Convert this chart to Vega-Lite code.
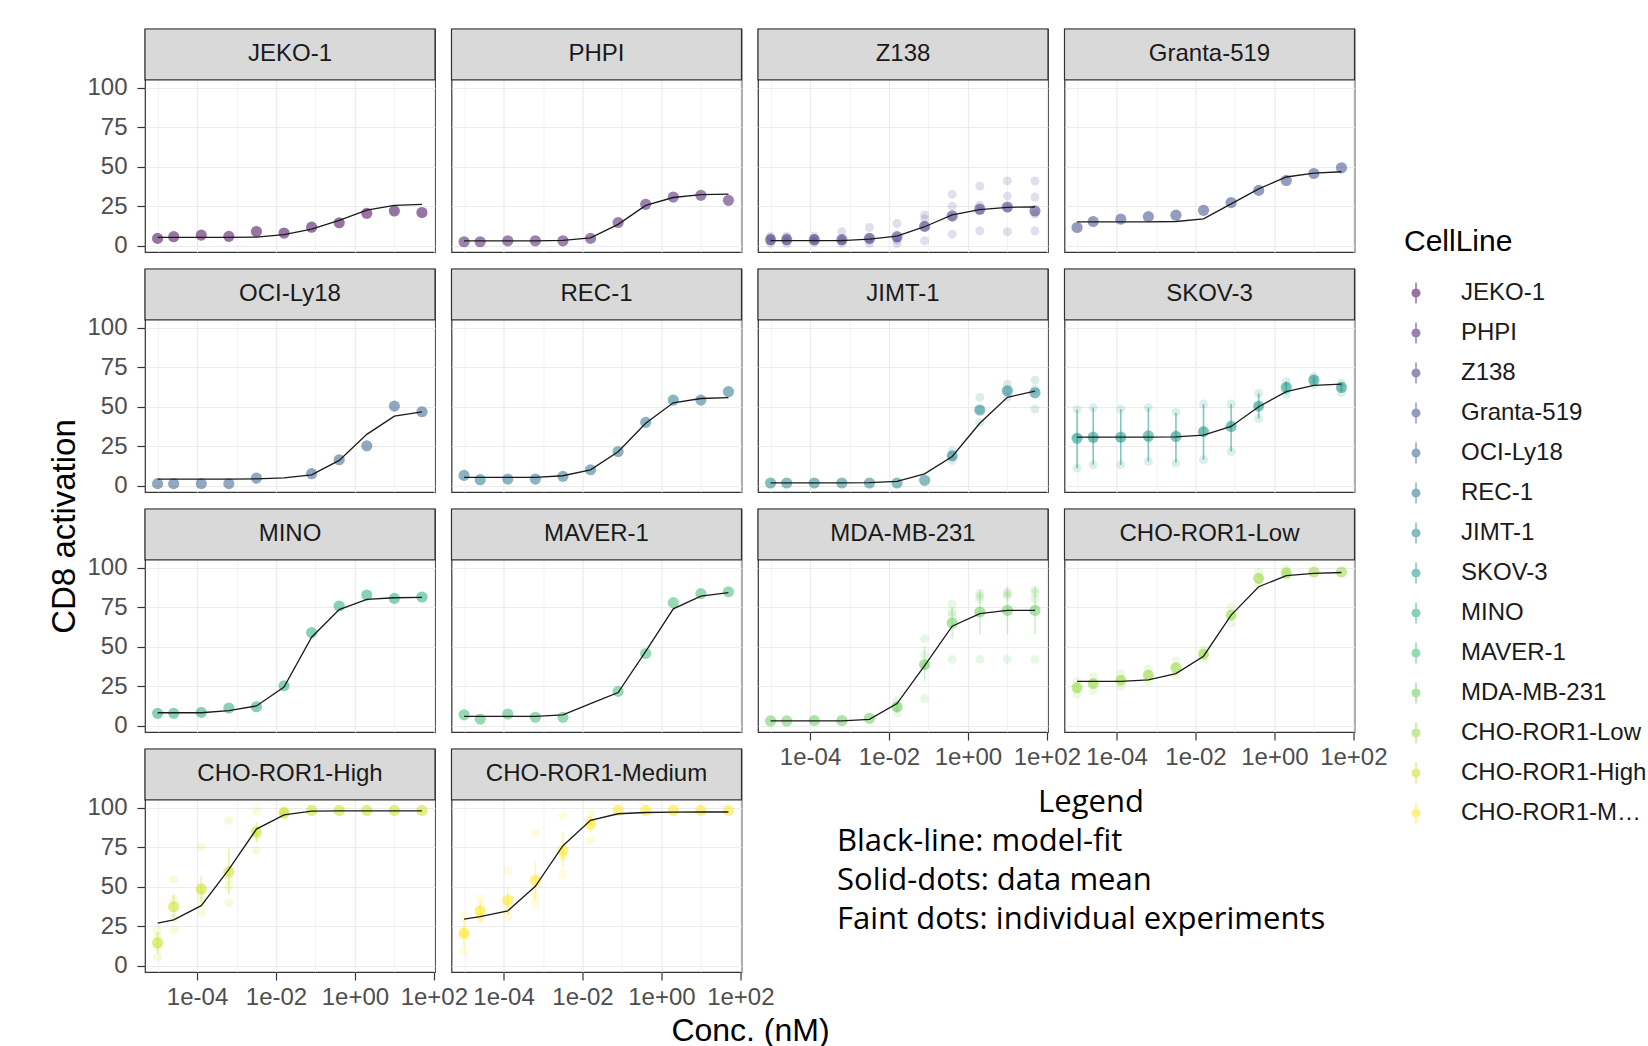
{
"$schema":"https://vega.github.io/schema/vega-lite/v6.json",
"background":"white",
"padding":{"left":47,"top":27,"right":0,"bottom":0},
"autosize":{"type":"pad"},
"columns":4,
"bounds":"flush",
"spacing":{"row":17,"column":16.5},
"datasets":{
"m":[
{"CellLine":"JEKO-1","conc":0.00001,"mean":4.6,"fit":5.2},{"CellLine":"JEKO-1","conc":0.0000256,"mean":5.7,"fit":5.2},{"CellLine":"JEKO-1","conc":0.000128,"mean":6.7,"fit":5.2},{"CellLine":"JEKO-1","conc":0.00064,"mean":5.9,"fit":5.2},{"CellLine":"JEKO-1","conc":0.0032,"mean":9,"fit":5.4},{"CellLine":"JEKO-1","conc":0.016,"mean":8,"fit":7},{"CellLine":"JEKO-1","conc":0.08,"mean":11.7,"fit":10.5},{"CellLine":"JEKO-1","conc":0.4,"mean":14.5,"fit":16},{"CellLine":"JEKO-1","conc":2,"mean":20.5,"fit":22.5},{"CellLine":"JEKO-1","conc":10,"mean":22,"fit":25.5},{"CellLine":"JEKO-1","conc":50,"mean":21,"fit":26.2},
{"CellLine":"PHPI","conc":0.00001,"mean":2.5,"fit":3},{"CellLine":"PHPI","conc":0.0000256,"mean":2.5,"fit":3},{"CellLine":"PHPI","conc":0.000128,"mean":3.1,"fit":3},{"CellLine":"PHPI","conc":0.00064,"mean":3.1,"fit":3.1},{"CellLine":"PHPI","conc":0.0032,"mean":3.1,"fit":3.3},{"CellLine":"PHPI","conc":0.016,"mean":4.6,"fit":5},{"CellLine":"PHPI","conc":0.08,"mean":14.7,"fit":13.5},{"CellLine":"PHPI","conc":0.4,"mean":26.2,"fit":25.5},{"CellLine":"PHPI","conc":2,"mean":30.8,"fit":30.5},{"CellLine":"PHPI","conc":10,"mean":31.9,"fit":32.3},{"CellLine":"PHPI","conc":50,"mean":28.7,"fit":32.6},
{"CellLine":"Z138","conc":0.00001,"mean":3.8,"fit":3.2},{"CellLine":"Z138","conc":0.0000256,"mean":3.8,"fit":3.2},{"CellLine":"Z138","conc":0.000128,"mean":3.8,"fit":3.2},{"CellLine":"Z138","conc":0.00064,"mean":3.8,"fit":3.2},{"CellLine":"Z138","conc":0.0032,"mean":4.6,"fit":4.2},{"CellLine":"Z138","conc":0.016,"mean":5.7,"fit":6},{"CellLine":"Z138","conc":0.08,"mean":12.2,"fit":12},{"CellLine":"Z138","conc":0.4,"mean":18.9,"fit":19.5},{"CellLine":"Z138","conc":2,"mean":23.1,"fit":22.8},{"CellLine":"Z138","conc":10,"mean":24.5,"fit":24.3},{"CellLine":"Z138","conc":50,"mean":22,"fit":24.5},
{"CellLine":"Granta-519","conc":0.00001,"mean":11.5,"fit":15.1},{"CellLine":"Granta-519","conc":0.0000256,"mean":15.3,"fit":15.1},{"CellLine":"Granta-519","conc":0.000128,"mean":16.8,"fit":15.1},{"CellLine":"Granta-519","conc":0.00064,"mean":18.4,"fit":15.1},{"CellLine":"Granta-519","conc":0.0032,"mean":19.3,"fit":15.3},{"CellLine":"Granta-519","conc":0.016,"mean":22.4,"fit":17},{"CellLine":"Granta-519","conc":0.08,"mean":27.3,"fit":26.5},{"CellLine":"Granta-519","conc":0.4,"mean":35,"fit":36},{"CellLine":"Granta-519","conc":2,"mean":41.3,"fit":43.5},{"CellLine":"Granta-519","conc":10,"mean":45.7,"fit":46},{"CellLine":"Granta-519","conc":50,"mean":49.3,"fit":46.8},
{"CellLine":"OCI-Ly18","conc":0.00001,"mean":1.3,"fit":4.2},{"CellLine":"OCI-Ly18","conc":0.0000256,"mean":1.3,"fit":4.2},{"CellLine":"OCI-Ly18","conc":0.000128,"mean":1.3,"fit":4.2},{"CellLine":"OCI-Ly18","conc":0.00064,"mean":1.3,"fit":4.2},{"CellLine":"OCI-Ly18","conc":0.0032,"mean":4.8,"fit":4.3},{"CellLine":"OCI-Ly18","conc":0.016,"mean":null,"fit":4.9},{"CellLine":"OCI-Ly18","conc":0.08,"mean":7.6,"fit":6.9},{"CellLine":"OCI-Ly18","conc":0.4,"mean":16.4,"fit":16},{"CellLine":"OCI-Ly18","conc":2,"mean":25.2,"fit":32.5},{"CellLine":"OCI-Ly18","conc":10,"mean":50.4,"fit":44},{"CellLine":"OCI-Ly18","conc":50,"mean":46.8,"fit":46.8},
{"CellLine":"REC-1","conc":0.00001,"mean":6.5,"fit":5.2},{"CellLine":"REC-1","conc":0.0000256,"mean":3.8,"fit":5.2},{"CellLine":"REC-1","conc":0.000128,"mean":4.2,"fit":5.2},{"CellLine":"REC-1","conc":0.00064,"mean":4.2,"fit":5.3},{"CellLine":"REC-1","conc":0.0032,"mean":5.9,"fit":6.3},{"CellLine":"REC-1","conc":0.016,"mean":10.1,"fit":10},{"CellLine":"REC-1","conc":0.08,"mean":21.6,"fit":21.5},{"CellLine":"REC-1","conc":0.4,"mean":40.1,"fit":39.5},{"CellLine":"REC-1","conc":2,"mean":54.2,"fit":52.5},{"CellLine":"REC-1","conc":10,"mean":54.2,"fit":55.2},{"CellLine":"REC-1","conc":50,"mean":59.5,"fit":55.7},
{"CellLine":"JIMT-1","conc":0.00001,"mean":1.7,"fit":1.8},{"CellLine":"JIMT-1","conc":0.0000256,"mean":1.7,"fit":1.8},{"CellLine":"JIMT-1","conc":0.000128,"mean":1.7,"fit":1.8},{"CellLine":"JIMT-1","conc":0.00064,"mean":1.7,"fit":1.8},{"CellLine":"JIMT-1","conc":0.0032,"mean":1.7,"fit":1.9},{"CellLine":"JIMT-1","conc":0.016,"mean":1.7,"fit":2.7},{"CellLine":"JIMT-1","conc":0.08,"mean":3.4,"fit":7.5},{"CellLine":"JIMT-1","conc":0.4,"mean":18.9,"fit":18.5},{"CellLine":"JIMT-1","conc":2,"mean":47.9,"fit":39.5},{"CellLine":"JIMT-1","conc":10,"mean":60.1,"fit":56},{"CellLine":"JIMT-1","conc":50,"mean":58.8,"fit":59.8},
{"CellLine":"SKOV-3","conc":0.00001,"mean":30,"fit":30.7,"lo":11.1,"hi":48.3},{"CellLine":"SKOV-3","conc":0.0000256,"mean":30.7,"fit":30.7,"lo":13.2,"hi":49.4},{"CellLine":"SKOV-3","conc":0.000128,"mean":30.7,"fit":30.7,"lo":13.2,"hi":48.5},{"CellLine":"SKOV-3","conc":0.00064,"mean":31.5,"fit":30.7,"lo":15.3,"hi":49.4},{"CellLine":"SKOV-3","conc":0.0032,"mean":31.1,"fit":30.9,"lo":14.3,"hi":46.4},{"CellLine":"SKOV-3","conc":0.016,"mean":34.2,"fit":32,"lo":16.4,"hi":51.7},{"CellLine":"SKOV-3","conc":0.08,"mean":37.4,"fit":37.5,"lo":21.6,"hi":51.7},{"CellLine":"SKOV-3","conc":0.4,"mean":50.4,"fit":50,"lo":42.6,"hi":58.4},{"CellLine":"SKOV-3","conc":2,"mean":62.2,"fit":59.5,"lo":58,"hi":66},{"CellLine":"SKOV-3","conc":10,"mean":66.8,"fit":63.5,"lo":64,"hi":69},{"CellLine":"SKOV-3","conc":50,"mean":62.2,"fit":64.3,"lo":59,"hi":65},
{"CellLine":"MINO","conc":0.00001,"mean":7.8,"fit":8.2},{"CellLine":"MINO","conc":0.0000256,"mean":7.8,"fit":8.2},{"CellLine":"MINO","conc":0.000128,"mean":8.4,"fit":8.2},{"CellLine":"MINO","conc":0.00064,"mean":11.2,"fit":9.5},{"CellLine":"MINO","conc":0.0032,"mean":12,"fit":12.5},{"CellLine":"MINO","conc":0.016,"mean":25.3,"fit":24.5},{"CellLine":"MINO","conc":0.08,"mean":58.9,"fit":56},{"CellLine":"MINO","conc":0.4,"mean":75.8,"fit":73.5},{"CellLine":"MINO","conc":2,"mean":82.7,"fit":80},{"CellLine":"MINO","conc":10,"mean":80.6,"fit":81},{"CellLine":"MINO","conc":50,"mean":81.5,"fit":81.2},
{"CellLine":"MAVER-1","conc":0.00001,"mean":6.9,"fit":5.9},{"CellLine":"MAVER-1","conc":0.0000256,"mean":4.2,"fit":5.9},{"CellLine":"MAVER-1","conc":0.000128,"mean":7.4,"fit":5.9},{"CellLine":"MAVER-1","conc":0.00064,"mean":5.3,"fit":5.9},{"CellLine":"MAVER-1","conc":0.0032,"mean":5.3,"fit":6.9},{"CellLine":"MAVER-1","conc":0.016,"mean":null,"fit":14},{"CellLine":"MAVER-1","conc":0.08,"mean":21.7,"fit":21},{"CellLine":"MAVER-1","conc":0.4,"mean":45.7,"fit":47},{"CellLine":"MAVER-1","conc":2,"mean":77.9,"fit":74},{"CellLine":"MAVER-1","conc":10,"mean":83.6,"fit":82},{"CellLine":"MAVER-1","conc":50,"mean":84.8,"fit":84.2},
{"CellLine":"MDA-MB-231","conc":0.00001,"mean":3,"fit":3},{"CellLine":"MDA-MB-231","conc":0.0000256,"mean":3,"fit":3},{"CellLine":"MDA-MB-231","conc":0.000128,"mean":3.3,"fit":3},{"CellLine":"MDA-MB-231","conc":0.00064,"mean":3.3,"fit":3},{"CellLine":"MDA-MB-231","conc":0.0032,"mean":4.7,"fit":4},{"CellLine":"MDA-MB-231","conc":0.016,"mean":12,"fit":14,"lo":8,"hi":16},{"CellLine":"MDA-MB-231","conc":0.08,"mean":38.7,"fit":38,"lo":28,"hi":50},{"CellLine":"MDA-MB-231","conc":0.4,"mean":65,"fit":63,"lo":55,"hi":75},{"CellLine":"MDA-MB-231","conc":2,"mean":72,"fit":71,"lo":58,"hi":86},{"CellLine":"MDA-MB-231","conc":10,"mean":73,"fit":73,"lo":58,"hi":88},{"CellLine":"MDA-MB-231","conc":50,"mean":73,"fit":73,"lo":58,"hi":88},
{"CellLine":"CHO-ROR1-Low","conc":0.00001,"mean":24,"fit":28},{"CellLine":"CHO-ROR1-Low","conc":0.0000256,"mean":26.7,"fit":28},{"CellLine":"CHO-ROR1-Low","conc":0.000128,"mean":28.7,"fit":28},{"CellLine":"CHO-ROR1-Low","conc":0.00064,"mean":32,"fit":29},{"CellLine":"CHO-ROR1-Low","conc":0.0032,"mean":36.7,"fit":33},{"CellLine":"CHO-ROR1-Low","conc":0.016,"mean":45.3,"fit":44},{"CellLine":"CHO-ROR1-Low","conc":0.08,"mean":70,"fit":70},{"CellLine":"CHO-ROR1-Low","conc":0.4,"mean":93.3,"fit":88},{"CellLine":"CHO-ROR1-Low","conc":2,"mean":96.7,"fit":95},{"CellLine":"CHO-ROR1-Low","conc":10,"mean":97.3,"fit":96.5},{"CellLine":"CHO-ROR1-Low","conc":50,"mean":97.3,"fit":97},
{"CellLine":"CHO-ROR1-High","conc":0.00001,"mean":14.5,"fit":27,"lo":8,"hi":21},{"CellLine":"CHO-ROR1-High","conc":0.0000256,"mean":37.3,"fit":29,"lo":30,"hi":45},{"CellLine":"CHO-ROR1-High","conc":0.000128,"mean":48.6,"fit":38,"lo":40,"hi":57},{"CellLine":"CHO-ROR1-High","conc":0.00064,"mean":59.4,"fit":61,"lo":45,"hi":74},{"CellLine":"CHO-ROR1-High","conc":0.0032,"mean":84.6,"fit":86.5,"lo":78,"hi":91},{"CellLine":"CHO-ROR1-High","conc":0.016,"mean":96.8,"fit":95.5},{"CellLine":"CHO-ROR1-High","conc":0.08,"mean":98.3,"fit":97.8},{"CellLine":"CHO-ROR1-High","conc":0.4,"mean":98.3,"fit":98},{"CellLine":"CHO-ROR1-High","conc":2,"mean":98.3,"fit":98},{"CellLine":"CHO-ROR1-High","conc":10,"mean":98.3,"fit":98},{"CellLine":"CHO-ROR1-High","conc":50,"mean":98.3,"fit":98},
{"CellLine":"CHO-ROR1-Medium","conc":0.00001,"mean":20.4,"fit":29.5,"lo":12,"hi":29},{"CellLine":"CHO-ROR1-Medium","conc":0.0000256,"mean":34.7,"fit":31,"lo":28,"hi":41},{"CellLine":"CHO-ROR1-Medium","conc":0.000128,"mean":41.5,"fit":34.7,"lo":33,"hi":50},{"CellLine":"CHO-ROR1-Medium","conc":0.00064,"mean":54.1,"fit":50.3,"lo":42,"hi":66},{"CellLine":"CHO-ROR1-Medium","conc":0.0032,"mean":73.1,"fit":76,"lo":62,"hi":84},{"CellLine":"CHO-ROR1-Medium","conc":0.016,"mean":89.5,"fit":92,"lo":84,"hi":95},{"CellLine":"CHO-ROR1-Medium","conc":0.08,"mean":98.3,"fit":96.2},{"CellLine":"CHO-ROR1-Medium","conc":0.4,"mean":98.3,"fit":97},{"CellLine":"CHO-ROR1-Medium","conc":2,"mean":98.3,"fit":97.2},{"CellLine":"CHO-ROR1-Medium","conc":10,"mean":98.3,"fit":97.3},{"CellLine":"CHO-ROR1-Medium","conc":50,"mean":98.3,"fit":97.3}
],
"r":[
{"CellLine":"Z138","conc":0.00001,"value":1.5},{"CellLine":"Z138","conc":0.00001,"value":3},{"CellLine":"Z138","conc":0.00001,"value":5},{"CellLine":"Z138","conc":0.00001,"value":6},
{"CellLine":"Z138","conc":0.0000256,"value":1.5},{"CellLine":"Z138","conc":0.0000256,"value":3},{"CellLine":"Z138","conc":0.0000256,"value":5},{"CellLine":"Z138","conc":0.0000256,"value":6},
{"CellLine":"Z138","conc":0.000128,"value":2},{"CellLine":"Z138","conc":0.000128,"value":3},{"CellLine":"Z138","conc":0.000128,"value":4.5},{"CellLine":"Z138","conc":0.000128,"value":6},
{"CellLine":"Z138","conc":0.00064,"value":1.5},{"CellLine":"Z138","conc":0.00064,"value":3},{"CellLine":"Z138","conc":0.00064,"value":4},{"CellLine":"Z138","conc":0.00064,"value":8.8},
{"CellLine":"Z138","conc":0.0032,"value":1.5},{"CellLine":"Z138","conc":0.0032,"value":3.5},{"CellLine":"Z138","conc":0.0032,"value":5},{"CellLine":"Z138","conc":0.0032,"value":11.5},
{"CellLine":"Z138","conc":0.016,"value":1.5},{"CellLine":"Z138","conc":0.016,"value":3.5},{"CellLine":"Z138","conc":0.016,"value":5},{"CellLine":"Z138","conc":0.016,"value":14},
{"CellLine":"Z138","conc":0.08,"value":3},{"CellLine":"Z138","conc":0.08,"value":12},{"CellLine":"Z138","conc":0.08,"value":17},{"CellLine":"Z138","conc":0.08,"value":19.5},
{"CellLine":"Z138","conc":0.4,"value":7.3},{"CellLine":"Z138","conc":0.4,"value":18},{"CellLine":"Z138","conc":0.4,"value":25},{"CellLine":"Z138","conc":0.4,"value":32.5},
{"CellLine":"Z138","conc":2,"value":9.4},{"CellLine":"Z138","conc":2,"value":22},{"CellLine":"Z138","conc":2,"value":25.6},{"CellLine":"Z138","conc":2,"value":37.7},
{"CellLine":"Z138","conc":10,"value":8.8},{"CellLine":"Z138","conc":10,"value":24},{"CellLine":"Z138","conc":10,"value":31.4},{"CellLine":"Z138","conc":10,"value":41},
{"CellLine":"Z138","conc":50,"value":9.4},{"CellLine":"Z138","conc":50,"value":20},{"CellLine":"Z138","conc":50,"value":30.8},{"CellLine":"Z138","conc":50,"value":41},
{"CellLine":"JIMT-1","conc":0.4,"value":16},{"CellLine":"JIMT-1","conc":0.4,"value":19},{"CellLine":"JIMT-1","conc":0.4,"value":22},
{"CellLine":"JIMT-1","conc":2,"value":40},{"CellLine":"JIMT-1","conc":2,"value":48},{"CellLine":"JIMT-1","conc":2,"value":56},
{"CellLine":"JIMT-1","conc":10,"value":56},{"CellLine":"JIMT-1","conc":10,"value":60},{"CellLine":"JIMT-1","conc":10,"value":64.3},
{"CellLine":"JIMT-1","conc":50,"value":48.5},{"CellLine":"JIMT-1","conc":50,"value":61},{"CellLine":"JIMT-1","conc":50,"value":66.8},
{"CellLine":"SKOV-3","conc":0.00001,"value":11.1},{"CellLine":"SKOV-3","conc":0.00001,"value":30.6},{"CellLine":"SKOV-3","conc":0.00001,"value":48.3},
{"CellLine":"SKOV-3","conc":0.0000256,"value":13.2},{"CellLine":"SKOV-3","conc":0.0000256,"value":29.5},{"CellLine":"SKOV-3","conc":0.0000256,"value":49.4},
{"CellLine":"SKOV-3","conc":0.000128,"value":13.2},{"CellLine":"SKOV-3","conc":0.000128,"value":30.4},{"CellLine":"SKOV-3","conc":0.000128,"value":48.5},
{"CellLine":"SKOV-3","conc":0.00064,"value":15.3},{"CellLine":"SKOV-3","conc":0.00064,"value":29.8},{"CellLine":"SKOV-3","conc":0.00064,"value":49.4},
{"CellLine":"SKOV-3","conc":0.0032,"value":14.3},{"CellLine":"SKOV-3","conc":0.0032,"value":32.6},{"CellLine":"SKOV-3","conc":0.0032,"value":46.4},
{"CellLine":"SKOV-3","conc":0.016,"value":16.4},{"CellLine":"SKOV-3","conc":0.016,"value":34.5},{"CellLine":"SKOV-3","conc":0.016,"value":51.7},
{"CellLine":"SKOV-3","conc":0.08,"value":21.6},{"CellLine":"SKOV-3","conc":0.08,"value":38.9},{"CellLine":"SKOV-3","conc":0.08,"value":51.7},
{"CellLine":"SKOV-3","conc":0.4,"value":42.6},{"CellLine":"SKOV-3","conc":0.4,"value":50.2},{"CellLine":"SKOV-3","conc":0.4,"value":58.4},
{"CellLine":"SKOV-3","conc":2,"value":58},{"CellLine":"SKOV-3","conc":2,"value":62.6},{"CellLine":"SKOV-3","conc":2,"value":66},
{"CellLine":"SKOV-3","conc":10,"value":64},{"CellLine":"SKOV-3","conc":10,"value":67.4},{"CellLine":"SKOV-3","conc":10,"value":69},
{"CellLine":"SKOV-3","conc":50,"value":59},{"CellLine":"SKOV-3","conc":50,"value":62.6},{"CellLine":"SKOV-3","conc":50,"value":65},
{"CellLine":"MDA-MB-231","conc":0.016,"value":8},{"CellLine":"MDA-MB-231","conc":0.016,"value":12},{"CellLine":"MDA-MB-231","conc":0.016,"value":16},
{"CellLine":"MDA-MB-231","conc":0.08,"value":17},{"CellLine":"MDA-MB-231","conc":0.08,"value":38},{"CellLine":"MDA-MB-231","conc":0.08,"value":45},{"CellLine":"MDA-MB-231","conc":0.08,"value":55},
{"CellLine":"MDA-MB-231","conc":0.4,"value":42},{"CellLine":"MDA-MB-231","conc":0.4,"value":70},{"CellLine":"MDA-MB-231","conc":0.4,"value":72},{"CellLine":"MDA-MB-231","conc":0.4,"value":77},
{"CellLine":"MDA-MB-231","conc":2,"value":42},{"CellLine":"MDA-MB-231","conc":2,"value":80},{"CellLine":"MDA-MB-231","conc":2,"value":82},{"CellLine":"MDA-MB-231","conc":2,"value":84},
{"CellLine":"MDA-MB-231","conc":10,"value":42},{"CellLine":"MDA-MB-231","conc":10,"value":82},{"CellLine":"MDA-MB-231","conc":10,"value":84},{"CellLine":"MDA-MB-231","conc":10,"value":84},
{"CellLine":"MDA-MB-231","conc":50,"value":42},{"CellLine":"MDA-MB-231","conc":50,"value":80},{"CellLine":"MDA-MB-231","conc":50,"value":84},{"CellLine":"MDA-MB-231","conc":50,"value":86},
{"CellLine":"CHO-ROR1-Low","conc":0.00001,"value":20},{"CellLine":"CHO-ROR1-Low","conc":0.00001,"value":24},{"CellLine":"CHO-ROR1-Low","conc":0.00001,"value":28},
{"CellLine":"CHO-ROR1-Low","conc":0.0000256,"value":22},{"CellLine":"CHO-ROR1-Low","conc":0.0000256,"value":27},{"CellLine":"CHO-ROR1-Low","conc":0.0000256,"value":31},
{"CellLine":"CHO-ROR1-Low","conc":0.000128,"value":25},{"CellLine":"CHO-ROR1-Low","conc":0.000128,"value":29},{"CellLine":"CHO-ROR1-Low","conc":0.000128,"value":33},
{"CellLine":"CHO-ROR1-Low","conc":0.00064,"value":28},{"CellLine":"CHO-ROR1-Low","conc":0.00064,"value":32},{"CellLine":"CHO-ROR1-Low","conc":0.00064,"value":36},
{"CellLine":"CHO-ROR1-Low","conc":0.0032,"value":32},{"CellLine":"CHO-ROR1-Low","conc":0.0032,"value":37},{"CellLine":"CHO-ROR1-Low","conc":0.0032,"value":41},
{"CellLine":"CHO-ROR1-Low","conc":0.016,"value":42},{"CellLine":"CHO-ROR1-Low","conc":0.016,"value":45},{"CellLine":"CHO-ROR1-Low","conc":0.016,"value":48},
{"CellLine":"CHO-ROR1-Low","conc":0.08,"value":65},{"CellLine":"CHO-ROR1-Low","conc":0.08,"value":70},{"CellLine":"CHO-ROR1-Low","conc":0.08,"value":75},
{"CellLine":"CHO-ROR1-Low","conc":0.4,"value":89},{"CellLine":"CHO-ROR1-Low","conc":0.4,"value":93},{"CellLine":"CHO-ROR1-Low","conc":0.4,"value":97},
{"CellLine":"CHO-ROR1-Low","conc":2,"value":95},{"CellLine":"CHO-ROR1-Low","conc":2,"value":97},{"CellLine":"CHO-ROR1-Low","conc":2,"value":99},
{"CellLine":"CHO-ROR1-High","conc":0.00001,"value":5.7},{"CellLine":"CHO-ROR1-High","conc":0.00001,"value":12},{"CellLine":"CHO-ROR1-High","conc":0.00001,"value":18},{"CellLine":"CHO-ROR1-High","conc":0.00001,"value":22.5},
{"CellLine":"CHO-ROR1-High","conc":0.0000256,"value":22.5},{"CellLine":"CHO-ROR1-High","conc":0.0000256,"value":30},{"CellLine":"CHO-ROR1-High","conc":0.0000256,"value":42},{"CellLine":"CHO-ROR1-High","conc":0.0000256,"value":54.5},
{"CellLine":"CHO-ROR1-High","conc":0.000128,"value":34},{"CellLine":"CHO-ROR1-High","conc":0.000128,"value":40},{"CellLine":"CHO-ROR1-High","conc":0.000128,"value":45},{"CellLine":"CHO-ROR1-High","conc":0.000128,"value":75},
{"CellLine":"CHO-ROR1-High","conc":0.00064,"value":40},{"CellLine":"CHO-ROR1-High","conc":0.00064,"value":50},{"CellLine":"CHO-ROR1-High","conc":0.00064,"value":55},{"CellLine":"CHO-ROR1-High","conc":0.00064,"value":92},
{"CellLine":"CHO-ROR1-High","conc":0.0032,"value":73},{"CellLine":"CHO-ROR1-High","conc":0.0032,"value":82},{"CellLine":"CHO-ROR1-High","conc":0.0032,"value":86},{"CellLine":"CHO-ROR1-High","conc":0.0032,"value":98},
{"CellLine":"CHO-ROR1-High","conc":0.016,"value":95},{"CellLine":"CHO-ROR1-High","conc":0.016,"value":97},{"CellLine":"CHO-ROR1-High","conc":0.016,"value":98},{"CellLine":"CHO-ROR1-High","conc":0.016,"value":98},
{"CellLine":"CHO-ROR1-Medium","conc":0.00001,"value":8.8},{"CellLine":"CHO-ROR1-Medium","conc":0.00001,"value":20},{"CellLine":"CHO-ROR1-Medium","conc":0.00001,"value":22},{"CellLine":"CHO-ROR1-Medium","conc":0.00001,"value":31},
{"CellLine":"CHO-ROR1-Medium","conc":0.0000256,"value":30},{"CellLine":"CHO-ROR1-Medium","conc":0.0000256,"value":31},{"CellLine":"CHO-ROR1-Medium","conc":0.0000256,"value":35},{"CellLine":"CHO-ROR1-Medium","conc":0.0000256,"value":42.5},
{"CellLine":"CHO-ROR1-Medium","conc":0.000128,"value":31},{"CellLine":"CHO-ROR1-Medium","conc":0.000128,"value":35},{"CellLine":"CHO-ROR1-Medium","conc":0.000128,"value":40},{"CellLine":"CHO-ROR1-Medium","conc":0.000128,"value":60},
{"CellLine":"CHO-ROR1-Medium","conc":0.00064,"value":39},{"CellLine":"CHO-ROR1-Medium","conc":0.00064,"value":44},{"CellLine":"CHO-ROR1-Medium","conc":0.00064,"value":50},{"CellLine":"CHO-ROR1-Medium","conc":0.00064,"value":83.6},
{"CellLine":"CHO-ROR1-Medium","conc":0.0032,"value":58},{"CellLine":"CHO-ROR1-Medium","conc":0.0032,"value":69},{"CellLine":"CHO-ROR1-Medium","conc":0.0032,"value":70},{"CellLine":"CHO-ROR1-Medium","conc":0.0032,"value":95},
{"CellLine":"CHO-ROR1-Medium","conc":0.016,"value":79},{"CellLine":"CHO-ROR1-Medium","conc":0.016,"value":91},{"CellLine":"CHO-ROR1-Medium","conc":0.016,"value":92},{"CellLine":"CHO-ROR1-Medium","conc":0.016,"value":96}
],
"notes":[{"line":"Legend"},{"line":"Black-line: model-fit"},{"line":"Solid-dots: data mean"},{"line":"Faint dots: individual experiments"}]
},
"concat":[
{"width":290,"height":223,
"encoding":{"color":{"field":"CellLine","type":"nominal","scale":{"domain":["JEKO-1","PHPI","Z138","Granta-519","OCI-Ly18","REC-1","JIMT-1","SKOV-3","MINO","MAVER-1","MDA-MB-231","CHO-ROR1-Low","CHO-ROR1-High","CHO-ROR1-Medium"]},"legend":{"orient":"none","legendX":1259,"legendY":198,"encode":{"symbols":{"update":{"stroke":{"scale":"color","field":"value"},"fill":{"scale":"color","field":"value"},"strokeWidth":{"value":1.5},"opacity":{"value":0.6}}}}}}},
"layer":[
{"encoding":{"x":{"field":"conc","type":"quantitative","scale":{"type":"log","domain":[4.8e-6,107],"nice":false},"axis":{"values":[0.00001,0.0001,0.001,0.01,0.1,1,10,100],"labels":false,"ticks":false,"title":null,"gridWidth":{"condition":{"test":"round(log(datum.value)/LN10)%2!==0","value":0.6},"value":1.2}}},
"y":{"field":"mean","type":"quantitative","scale":{"domain":[-4,137.2],"nice":false,"zero":false},"axis":{"values":[0,12.5,25,37.5,50,62.5,75,87.5,100],"labelExpr":"datum.value%25!==0?'':datum.label","labelOverlap":false,"title":null,"gridWidth":{"condition":{"test":"datum.value%25!==0","value":0.6},"value":1.2},"tickOpacity":{"condition":{"test":"datum.value%25!==0","value":0},"value":1}}}},
"layer":[
{"data":{"name":"m"},"transform":[{"filter":"datum.CellLine==='JEKO-1'"}],"mark":{"type":"circle","size":125,"opacity":0.55}},
{"data":{"name":"m"},"transform":[{"filter":"datum.CellLine==='JEKO-1'"}],"mark":{"type":"line","strokeWidth":1.3},"encoding":{"y":{"field":"fit","type":"quantitative"},"color":{"value":"#1a1a1a"}}}
]},
{"data":{"values":[{"CellLine":"JEKO-1"}]},"mark":{"type":"rect","stroke":"#333333","strokeWidth":1.2},"encoding":{"x":{"datum":4.8e-6,"type":"quantitative","scale":{"type":"log","domain":[4.8e-6,107],"nice":false}},"x2":{"datum":107},"y":{"datum":105,"type":"quantitative","scale":{"domain":[-4,137.2],"nice":false,"zero":false}},"y2":{"datum":137.2},"color":{"value":"#d9d9d9"}}},
{"data":{"values":[{"CellLine":"JEKO-1"}]},"mark":{"type":"text","fontSize":24,"baseline":"middle"},"encoding":{"x":{"datum":0.02265,"type":"quantitative","scale":{"type":"log","domain":[4.8e-6,107],"nice":false}},"y":{"datum":121.1,"type":"quantitative","scale":{"domain":[-4,137.2],"nice":false,"zero":false}},"text":{"field":"CellLine"},"color":{"value":"#1a1a1a"}}}
]},
{"width":290,"height":223,
"encoding":{"color":{"field":"CellLine","type":"nominal","scale":{"domain":["JEKO-1","PHPI","Z138","Granta-519","OCI-Ly18","REC-1","JIMT-1","SKOV-3","MINO","MAVER-1","MDA-MB-231","CHO-ROR1-Low","CHO-ROR1-High","CHO-ROR1-Medium"]},"legend":{"orient":"none","legendX":1259,"legendY":198,"encode":{"symbols":{"update":{"stroke":{"scale":"color","field":"value"},"fill":{"scale":"color","field":"value"},"strokeWidth":{"value":1.5},"opacity":{"value":0.6}}}}}}},
"layer":[
{"encoding":{"x":{"field":"conc","type":"quantitative","scale":{"type":"log","domain":[4.8e-6,107],"nice":false},"axis":{"values":[0.00001,0.0001,0.001,0.01,0.1,1,10,100],"labels":false,"ticks":false,"title":null,"gridWidth":{"condition":{"test":"round(log(datum.value)/LN10)%2!==0","value":0.6},"value":1.2}}},
"y":{"field":"mean","type":"quantitative","scale":{"domain":[-4,137.2],"nice":false,"zero":false},"axis":{"values":[0,12.5,25,37.5,50,62.5,75,87.5,100],"labels":false,"ticks":false,"title":null,"gridWidth":{"condition":{"test":"datum.value%25!==0","value":0.6},"value":1.2}}}},
"layer":[
{"data":{"name":"m"},"transform":[{"filter":"datum.CellLine==='PHPI'"}],"mark":{"type":"circle","size":125,"opacity":0.55}},
{"data":{"name":"m"},"transform":[{"filter":"datum.CellLine==='PHPI'"}],"mark":{"type":"line","strokeWidth":1.3},"encoding":{"y":{"field":"fit","type":"quantitative"},"color":{"value":"#1a1a1a"}}}
]},
{"data":{"values":[{"CellLine":"PHPI"}]},"mark":{"type":"rect","stroke":"#333333","strokeWidth":1.2},"encoding":{"x":{"datum":4.8e-6,"type":"quantitative","scale":{"type":"log","domain":[4.8e-6,107],"nice":false}},"x2":{"datum":107},"y":{"datum":105,"type":"quantitative","scale":{"domain":[-4,137.2],"nice":false,"zero":false}},"y2":{"datum":137.2},"color":{"value":"#d9d9d9"}}},
{"data":{"values":[{"CellLine":"PHPI"}]},"mark":{"type":"text","fontSize":24,"baseline":"middle"},"encoding":{"x":{"datum":0.02265,"type":"quantitative","scale":{"type":"log","domain":[4.8e-6,107],"nice":false}},"y":{"datum":121.1,"type":"quantitative","scale":{"domain":[-4,137.2],"nice":false,"zero":false}},"text":{"field":"CellLine"},"color":{"value":"#1a1a1a"}}}
]},
{"width":290,"height":223,
"encoding":{"color":{"field":"CellLine","type":"nominal","scale":{"domain":["JEKO-1","PHPI","Z138","Granta-519","OCI-Ly18","REC-1","JIMT-1","SKOV-3","MINO","MAVER-1","MDA-MB-231","CHO-ROR1-Low","CHO-ROR1-High","CHO-ROR1-Medium"]},"legend":{"orient":"none","legendX":1259,"legendY":198,"encode":{"symbols":{"update":{"stroke":{"scale":"color","field":"value"},"fill":{"scale":"color","field":"value"},"strokeWidth":{"value":1.5},"opacity":{"value":0.6}}}}}}},
"layer":[
{"encoding":{"x":{"field":"conc","type":"quantitative","scale":{"type":"log","domain":[4.8e-6,107],"nice":false},"axis":{"values":[0.00001,0.0001,0.001,0.01,0.1,1,10,100],"labels":false,"ticks":false,"title":null,"gridWidth":{"condition":{"test":"round(log(datum.value)/LN10)%2!==0","value":0.6},"value":1.2}}},
"y":{"field":"mean","type":"quantitative","scale":{"domain":[-4,137.2],"nice":false,"zero":false},"axis":{"values":[0,12.5,25,37.5,50,62.5,75,87.5,100],"labels":false,"ticks":false,"title":null,"gridWidth":{"condition":{"test":"datum.value%25!==0","value":0.6},"value":1.2}}}},
"layer":[
{"data":{"name":"r"},"transform":[{"filter":"datum.CellLine==='Z138'"}],"mark":{"type":"circle","size":80,"opacity":0.16},"encoding":{"y":{"field":"value","type":"quantitative"}}},
{"data":{"name":"m"},"transform":[{"filter":"datum.CellLine==='Z138'"}],"mark":{"type":"circle","size":125,"opacity":0.55}},
{"data":{"name":"m"},"transform":[{"filter":"datum.CellLine==='Z138'"}],"mark":{"type":"line","strokeWidth":1.3},"encoding":{"y":{"field":"fit","type":"quantitative"},"color":{"value":"#1a1a1a"}}}
]},
{"data":{"values":[{"CellLine":"Z138"}]},"mark":{"type":"rect","stroke":"#333333","strokeWidth":1.2},"encoding":{"x":{"datum":4.8e-6,"type":"quantitative","scale":{"type":"log","domain":[4.8e-6,107],"nice":false}},"x2":{"datum":107},"y":{"datum":105,"type":"quantitative","scale":{"domain":[-4,137.2],"nice":false,"zero":false}},"y2":{"datum":137.2},"color":{"value":"#d9d9d9"}}},
{"data":{"values":[{"CellLine":"Z138"}]},"mark":{"type":"text","fontSize":24,"baseline":"middle"},"encoding":{"x":{"datum":0.02265,"type":"quantitative","scale":{"type":"log","domain":[4.8e-6,107],"nice":false}},"y":{"datum":121.1,"type":"quantitative","scale":{"domain":[-4,137.2],"nice":false,"zero":false}},"text":{"field":"CellLine"},"color":{"value":"#1a1a1a"}}}
]},
{"width":290,"height":223,
"encoding":{"color":{"field":"CellLine","type":"nominal","scale":{"domain":["JEKO-1","PHPI","Z138","Granta-519","OCI-Ly18","REC-1","JIMT-1","SKOV-3","MINO","MAVER-1","MDA-MB-231","CHO-ROR1-Low","CHO-ROR1-High","CHO-ROR1-Medium"]},"legend":{"orient":"none","legendX":1259,"legendY":198,"encode":{"symbols":{"update":{"stroke":{"scale":"color","field":"value"},"fill":{"scale":"color","field":"value"},"strokeWidth":{"value":1.5},"opacity":{"value":0.6}}}}}}},
"layer":[
{"encoding":{"x":{"field":"conc","type":"quantitative","scale":{"type":"log","domain":[4.8e-6,107],"nice":false},"axis":{"values":[0.00001,0.0001,0.001,0.01,0.1,1,10,100],"labels":false,"ticks":false,"title":null,"gridWidth":{"condition":{"test":"round(log(datum.value)/LN10)%2!==0","value":0.6},"value":1.2}}},
"y":{"field":"mean","type":"quantitative","scale":{"domain":[-4,137.2],"nice":false,"zero":false},"axis":{"values":[0,12.5,25,37.5,50,62.5,75,87.5,100],"labels":false,"ticks":false,"title":null,"gridWidth":{"condition":{"test":"datum.value%25!==0","value":0.6},"value":1.2}}}},
"layer":[
{"data":{"name":"m"},"transform":[{"filter":"datum.CellLine==='Granta-519'"}],"mark":{"type":"circle","size":125,"opacity":0.55}},
{"data":{"name":"m"},"transform":[{"filter":"datum.CellLine==='Granta-519'"}],"mark":{"type":"line","strokeWidth":1.3},"encoding":{"y":{"field":"fit","type":"quantitative"},"color":{"value":"#1a1a1a"}}}
]},
{"data":{"values":[{"CellLine":"Granta-519"}]},"mark":{"type":"rect","stroke":"#333333","strokeWidth":1.2},"encoding":{"x":{"datum":4.8e-6,"type":"quantitative","scale":{"type":"log","domain":[4.8e-6,107],"nice":false}},"x2":{"datum":107},"y":{"datum":105,"type":"quantitative","scale":{"domain":[-4,137.2],"nice":false,"zero":false}},"y2":{"datum":137.2},"color":{"value":"#d9d9d9"}}},
{"data":{"values":[{"CellLine":"Granta-519"}]},"mark":{"type":"text","fontSize":24,"baseline":"middle"},"encoding":{"x":{"datum":0.02265,"type":"quantitative","scale":{"type":"log","domain":[4.8e-6,107],"nice":false}},"y":{"datum":121.1,"type":"quantitative","scale":{"domain":[-4,137.2],"nice":false,"zero":false}},"text":{"field":"CellLine"},"color":{"value":"#1a1a1a"}}}
]},
{"width":290,"height":223,
"encoding":{"color":{"field":"CellLine","type":"nominal","scale":{"domain":["JEKO-1","PHPI","Z138","Granta-519","OCI-Ly18","REC-1","JIMT-1","SKOV-3","MINO","MAVER-1","MDA-MB-231","CHO-ROR1-Low","CHO-ROR1-High","CHO-ROR1-Medium"]},"legend":{"orient":"none","legendX":1259,"legendY":198,"encode":{"symbols":{"update":{"stroke":{"scale":"color","field":"value"},"fill":{"scale":"color","field":"value"},"strokeWidth":{"value":1.5},"opacity":{"value":0.6}}}}}}},
"layer":[
{"encoding":{"x":{"field":"conc","type":"quantitative","scale":{"type":"log","domain":[4.8e-6,107],"nice":false},"axis":{"values":[0.00001,0.0001,0.001,0.01,0.1,1,10,100],"labels":false,"ticks":false,"title":null,"gridWidth":{"condition":{"test":"round(log(datum.value)/LN10)%2!==0","value":0.6},"value":1.2}}},
"y":{"field":"mean","type":"quantitative","scale":{"domain":[-4,137.2],"nice":false,"zero":false},"axis":{"values":[0,12.5,25,37.5,50,62.5,75,87.5,100],"labelExpr":"datum.value%25!==0?'':datum.label","labelOverlap":false,"title":null,"gridWidth":{"condition":{"test":"datum.value%25!==0","value":0.6},"value":1.2},"tickOpacity":{"condition":{"test":"datum.value%25!==0","value":0},"value":1}}}},
"layer":[
{"data":{"name":"m"},"transform":[{"filter":"datum.CellLine==='OCI-Ly18'"}],"mark":{"type":"circle","size":125,"opacity":0.55}},
{"data":{"name":"m"},"transform":[{"filter":"datum.CellLine==='OCI-Ly18'"}],"mark":{"type":"line","strokeWidth":1.3},"encoding":{"y":{"field":"fit","type":"quantitative"},"color":{"value":"#1a1a1a"}}}
]},
{"data":{"values":[{"CellLine":"OCI-Ly18"}]},"mark":{"type":"rect","stroke":"#333333","strokeWidth":1.2},"encoding":{"x":{"datum":4.8e-6,"type":"quantitative","scale":{"type":"log","domain":[4.8e-6,107],"nice":false}},"x2":{"datum":107},"y":{"datum":105,"type":"quantitative","scale":{"domain":[-4,137.2],"nice":false,"zero":false}},"y2":{"datum":137.2},"color":{"value":"#d9d9d9"}}},
{"data":{"values":[{"CellLine":"OCI-Ly18"}]},"mark":{"type":"text","fontSize":24,"baseline":"middle"},"encoding":{"x":{"datum":0.02265,"type":"quantitative","scale":{"type":"log","domain":[4.8e-6,107],"nice":false}},"y":{"datum":121.1,"type":"quantitative","scale":{"domain":[-4,137.2],"nice":false,"zero":false}},"text":{"field":"CellLine"},"color":{"value":"#1a1a1a"}}}
]},
{"width":290,"height":223,
"encoding":{"color":{"field":"CellLine","type":"nominal","scale":{"domain":["JEKO-1","PHPI","Z138","Granta-519","OCI-Ly18","REC-1","JIMT-1","SKOV-3","MINO","MAVER-1","MDA-MB-231","CHO-ROR1-Low","CHO-ROR1-High","CHO-ROR1-Medium"]},"legend":{"orient":"none","legendX":1259,"legendY":198,"encode":{"symbols":{"update":{"stroke":{"scale":"color","field":"value"},"fill":{"scale":"color","field":"value"},"strokeWidth":{"value":1.5},"opacity":{"value":0.6}}}}}}},
"layer":[
{"encoding":{"x":{"field":"conc","type":"quantitative","scale":{"type":"log","domain":[4.8e-6,107],"nice":false},"axis":{"values":[0.00001,0.0001,0.001,0.01,0.1,1,10,100],"labels":false,"ticks":false,"title":null,"gridWidth":{"condition":{"test":"round(log(datum.value)/LN10)%2!==0","value":0.6},"value":1.2}}},
"y":{"field":"mean","type":"quantitative","scale":{"domain":[-4,137.2],"nice":false,"zero":false},"axis":{"values":[0,12.5,25,37.5,50,62.5,75,87.5,100],"labels":false,"ticks":false,"title":null,"gridWidth":{"condition":{"test":"datum.value%25!==0","value":0.6},"value":1.2}}}},
"layer":[
{"data":{"name":"m"},"transform":[{"filter":"datum.CellLine==='REC-1'"}],"mark":{"type":"circle","size":125,"opacity":0.55}},
{"data":{"name":"m"},"transform":[{"filter":"datum.CellLine==='REC-1'"}],"mark":{"type":"line","strokeWidth":1.3},"encoding":{"y":{"field":"fit","type":"quantitative"},"color":{"value":"#1a1a1a"}}}
]},
{"data":{"values":[{"CellLine":"REC-1"}]},"mark":{"type":"rect","stroke":"#333333","strokeWidth":1.2},"encoding":{"x":{"datum":4.8e-6,"type":"quantitative","scale":{"type":"log","domain":[4.8e-6,107],"nice":false}},"x2":{"datum":107},"y":{"datum":105,"type":"quantitative","scale":{"domain":[-4,137.2],"nice":false,"zero":false}},"y2":{"datum":137.2},"color":{"value":"#d9d9d9"}}},
{"data":{"values":[{"CellLine":"REC-1"}]},"mark":{"type":"text","fontSize":24,"baseline":"middle"},"encoding":{"x":{"datum":0.02265,"type":"quantitative","scale":{"type":"log","domain":[4.8e-6,107],"nice":false}},"y":{"datum":121.1,"type":"quantitative","scale":{"domain":[-4,137.2],"nice":false,"zero":false}},"text":{"field":"CellLine"},"color":{"value":"#1a1a1a"}}}
]},
{"width":290,"height":223,
"encoding":{"color":{"field":"CellLine","type":"nominal","scale":{"domain":["JEKO-1","PHPI","Z138","Granta-519","OCI-Ly18","REC-1","JIMT-1","SKOV-3","MINO","MAVER-1","MDA-MB-231","CHO-ROR1-Low","CHO-ROR1-High","CHO-ROR1-Medium"]},"legend":{"orient":"none","legendX":1259,"legendY":198,"encode":{"symbols":{"update":{"stroke":{"scale":"color","field":"value"},"fill":{"scale":"color","field":"value"},"strokeWidth":{"value":1.5},"opacity":{"value":0.6}}}}}}},
"layer":[
{"encoding":{"x":{"field":"conc","type":"quantitative","scale":{"type":"log","domain":[4.8e-6,107],"nice":false},"axis":{"values":[0.00001,0.0001,0.001,0.01,0.1,1,10,100],"labels":false,"ticks":false,"title":null,"gridWidth":{"condition":{"test":"round(log(datum.value)/LN10)%2!==0","value":0.6},"value":1.2}}},
"y":{"field":"mean","type":"quantitative","scale":{"domain":[-4,137.2],"nice":false,"zero":false},"axis":{"values":[0,12.5,25,37.5,50,62.5,75,87.5,100],"labels":false,"ticks":false,"title":null,"gridWidth":{"condition":{"test":"datum.value%25!==0","value":0.6},"value":1.2}}}},
"layer":[
{"data":{"name":"r"},"transform":[{"filter":"datum.CellLine==='JIMT-1'"}],"mark":{"type":"circle","size":80,"opacity":0.16},"encoding":{"y":{"field":"value","type":"quantitative"}}},
{"data":{"name":"m"},"transform":[{"filter":"datum.CellLine==='JIMT-1'"}],"mark":{"type":"circle","size":125,"opacity":0.55}},
{"data":{"name":"m"},"transform":[{"filter":"datum.CellLine==='JIMT-1'"}],"mark":{"type":"line","strokeWidth":1.3},"encoding":{"y":{"field":"fit","type":"quantitative"},"color":{"value":"#1a1a1a"}}}
]},
{"data":{"values":[{"CellLine":"JIMT-1"}]},"mark":{"type":"rect","stroke":"#333333","strokeWidth":1.2},"encoding":{"x":{"datum":4.8e-6,"type":"quantitative","scale":{"type":"log","domain":[4.8e-6,107],"nice":false}},"x2":{"datum":107},"y":{"datum":105,"type":"quantitative","scale":{"domain":[-4,137.2],"nice":false,"zero":false}},"y2":{"datum":137.2},"color":{"value":"#d9d9d9"}}},
{"data":{"values":[{"CellLine":"JIMT-1"}]},"mark":{"type":"text","fontSize":24,"baseline":"middle"},"encoding":{"x":{"datum":0.02265,"type":"quantitative","scale":{"type":"log","domain":[4.8e-6,107],"nice":false}},"y":{"datum":121.1,"type":"quantitative","scale":{"domain":[-4,137.2],"nice":false,"zero":false}},"text":{"field":"CellLine"},"color":{"value":"#1a1a1a"}}}
]},
{"width":290,"height":223,
"encoding":{"color":{"field":"CellLine","type":"nominal","scale":{"domain":["JEKO-1","PHPI","Z138","Granta-519","OCI-Ly18","REC-1","JIMT-1","SKOV-3","MINO","MAVER-1","MDA-MB-231","CHO-ROR1-Low","CHO-ROR1-High","CHO-ROR1-Medium"]},"legend":{"orient":"none","legendX":1259,"legendY":198,"encode":{"symbols":{"update":{"stroke":{"scale":"color","field":"value"},"fill":{"scale":"color","field":"value"},"strokeWidth":{"value":1.5},"opacity":{"value":0.6}}}}}}},
"layer":[
{"encoding":{"x":{"field":"conc","type":"quantitative","scale":{"type":"log","domain":[4.8e-6,107],"nice":false},"axis":{"values":[0.00001,0.0001,0.001,0.01,0.1,1,10,100],"labels":false,"ticks":false,"title":null,"gridWidth":{"condition":{"test":"round(log(datum.value)/LN10)%2!==0","value":0.6},"value":1.2}}},
"y":{"field":"mean","type":"quantitative","scale":{"domain":[-4,137.2],"nice":false,"zero":false},"axis":{"values":[0,12.5,25,37.5,50,62.5,75,87.5,100],"labels":false,"ticks":false,"title":null,"gridWidth":{"condition":{"test":"datum.value%25!==0","value":0.6},"value":1.2}}}},
"layer":[
{"data":{"name":"r"},"transform":[{"filter":"datum.CellLine==='SKOV-3'"}],"mark":{"type":"circle","size":80,"opacity":0.16},"encoding":{"y":{"field":"value","type":"quantitative"}}},
{"data":{"name":"m"},"transform":[{"filter":"datum.CellLine==='SKOV-3'"}],"mark":{"type":"rule","strokeWidth":1.6,"opacity":0.55},"encoding":{"y":{"field":"lo","type":"quantitative"},"y2":{"field":"hi"}}},
{"data":{"name":"m"},"transform":[{"filter":"datum.CellLine==='SKOV-3'"}],"mark":{"type":"circle","size":125,"opacity":0.55}},
{"data":{"name":"m"},"transform":[{"filter":"datum.CellLine==='SKOV-3'"}],"mark":{"type":"line","strokeWidth":1.3},"encoding":{"y":{"field":"fit","type":"quantitative"},"color":{"value":"#1a1a1a"}}}
]},
{"data":{"values":[{"CellLine":"SKOV-3"}]},"mark":{"type":"rect","stroke":"#333333","strokeWidth":1.2},"encoding":{"x":{"datum":4.8e-6,"type":"quantitative","scale":{"type":"log","domain":[4.8e-6,107],"nice":false}},"x2":{"datum":107},"y":{"datum":105,"type":"quantitative","scale":{"domain":[-4,137.2],"nice":false,"zero":false}},"y2":{"datum":137.2},"color":{"value":"#d9d9d9"}}},
{"data":{"values":[{"CellLine":"SKOV-3"}]},"mark":{"type":"text","fontSize":24,"baseline":"middle"},"encoding":{"x":{"datum":0.02265,"type":"quantitative","scale":{"type":"log","domain":[4.8e-6,107],"nice":false}},"y":{"datum":121.1,"type":"quantitative","scale":{"domain":[-4,137.2],"nice":false,"zero":false}},"text":{"field":"CellLine"},"color":{"value":"#1a1a1a"}}}
]},
{"width":290,"height":223,
"encoding":{"color":{"field":"CellLine","type":"nominal","scale":{"domain":["JEKO-1","PHPI","Z138","Granta-519","OCI-Ly18","REC-1","JIMT-1","SKOV-3","MINO","MAVER-1","MDA-MB-231","CHO-ROR1-Low","CHO-ROR1-High","CHO-ROR1-Medium"]},"legend":{"orient":"none","legendX":1259,"legendY":198,"encode":{"symbols":{"update":{"stroke":{"scale":"color","field":"value"},"fill":{"scale":"color","field":"value"},"strokeWidth":{"value":1.5},"opacity":{"value":0.6}}}}}}},
"layer":[
{"encoding":{"x":{"field":"conc","type":"quantitative","scale":{"type":"log","domain":[4.8e-6,107],"nice":false},"axis":{"values":[0.00001,0.0001,0.001,0.01,0.1,1,10,100],"labels":false,"ticks":false,"title":null,"gridWidth":{"condition":{"test":"round(log(datum.value)/LN10)%2!==0","value":0.6},"value":1.2}}},
"y":{"field":"mean","type":"quantitative","scale":{"domain":[-4,137.2],"nice":false,"zero":false},"axis":{"values":[0,12.5,25,37.5,50,62.5,75,87.5,100],"labelExpr":"datum.value%25!==0?'':datum.label","labelOverlap":false,"title":"CD8 activation","titleX":-81,"titleY":17,"titleBaseline":"middle","titleAlign":"center","titleAngle":270,"titleFontSize":33,"gridWidth":{"condition":{"test":"datum.value%25!==0","value":0.6},"value":1.2},"tickOpacity":{"condition":{"test":"datum.value%25!==0","value":0},"value":1}}}},
"layer":[
{"data":{"name":"m"},"transform":[{"filter":"datum.CellLine==='MINO'"}],"mark":{"type":"circle","size":125,"opacity":0.55}},
{"data":{"name":"m"},"transform":[{"filter":"datum.CellLine==='MINO'"}],"mark":{"type":"line","strokeWidth":1.3},"encoding":{"y":{"field":"fit","type":"quantitative"},"color":{"value":"#1a1a1a"}}}
]},
{"data":{"values":[{"CellLine":"MINO"}]},"mark":{"type":"rect","stroke":"#333333","strokeWidth":1.2},"encoding":{"x":{"datum":4.8e-6,"type":"quantitative","scale":{"type":"log","domain":[4.8e-6,107],"nice":false}},"x2":{"datum":107},"y":{"datum":105,"type":"quantitative","scale":{"domain":[-4,137.2],"nice":false,"zero":false}},"y2":{"datum":137.2},"color":{"value":"#d9d9d9"}}},
{"data":{"values":[{"CellLine":"MINO"}]},"mark":{"type":"text","fontSize":24,"baseline":"middle"},"encoding":{"x":{"datum":0.02265,"type":"quantitative","scale":{"type":"log","domain":[4.8e-6,107],"nice":false}},"y":{"datum":121.1,"type":"quantitative","scale":{"domain":[-4,137.2],"nice":false,"zero":false}},"text":{"field":"CellLine"},"color":{"value":"#1a1a1a"}}}
]},
{"width":290,"height":223,
"encoding":{"color":{"field":"CellLine","type":"nominal","scale":{"domain":["JEKO-1","PHPI","Z138","Granta-519","OCI-Ly18","REC-1","JIMT-1","SKOV-3","MINO","MAVER-1","MDA-MB-231","CHO-ROR1-Low","CHO-ROR1-High","CHO-ROR1-Medium"]},"legend":{"orient":"none","legendX":1259,"legendY":198,"encode":{"symbols":{"update":{"stroke":{"scale":"color","field":"value"},"fill":{"scale":"color","field":"value"},"strokeWidth":{"value":1.5},"opacity":{"value":0.6}}}}}}},
"layer":[
{"encoding":{"x":{"field":"conc","type":"quantitative","scale":{"type":"log","domain":[4.8e-6,107],"nice":false},"axis":{"values":[0.00001,0.0001,0.001,0.01,0.1,1,10,100],"labels":false,"ticks":false,"title":null,"gridWidth":{"condition":{"test":"round(log(datum.value)/LN10)%2!==0","value":0.6},"value":1.2}}},
"y":{"field":"mean","type":"quantitative","scale":{"domain":[-4,137.2],"nice":false,"zero":false},"axis":{"values":[0,12.5,25,37.5,50,62.5,75,87.5,100],"labels":false,"ticks":false,"title":null,"gridWidth":{"condition":{"test":"datum.value%25!==0","value":0.6},"value":1.2}}}},
"layer":[
{"data":{"name":"m"},"transform":[{"filter":"datum.CellLine==='MAVER-1'"}],"mark":{"type":"circle","size":125,"opacity":0.55}},
{"data":{"name":"m"},"transform":[{"filter":"datum.CellLine==='MAVER-1'"}],"mark":{"type":"line","strokeWidth":1.3},"encoding":{"y":{"field":"fit","type":"quantitative"},"color":{"value":"#1a1a1a"}}}
]},
{"data":{"values":[{"CellLine":"MAVER-1"}]},"mark":{"type":"rect","stroke":"#333333","strokeWidth":1.2},"encoding":{"x":{"datum":4.8e-6,"type":"quantitative","scale":{"type":"log","domain":[4.8e-6,107],"nice":false}},"x2":{"datum":107},"y":{"datum":105,"type":"quantitative","scale":{"domain":[-4,137.2],"nice":false,"zero":false}},"y2":{"datum":137.2},"color":{"value":"#d9d9d9"}}},
{"data":{"values":[{"CellLine":"MAVER-1"}]},"mark":{"type":"text","fontSize":24,"baseline":"middle"},"encoding":{"x":{"datum":0.02265,"type":"quantitative","scale":{"type":"log","domain":[4.8e-6,107],"nice":false}},"y":{"datum":121.1,"type":"quantitative","scale":{"domain":[-4,137.2],"nice":false,"zero":false}},"text":{"field":"CellLine"},"color":{"value":"#1a1a1a"}}}
]},
{"width":290,"height":223,
"encoding":{"color":{"field":"CellLine","type":"nominal","scale":{"domain":["JEKO-1","PHPI","Z138","Granta-519","OCI-Ly18","REC-1","JIMT-1","SKOV-3","MINO","MAVER-1","MDA-MB-231","CHO-ROR1-Low","CHO-ROR1-High","CHO-ROR1-Medium"]},"legend":{"orient":"none","legendX":1259,"legendY":198,"encode":{"symbols":{"update":{"stroke":{"scale":"color","field":"value"},"fill":{"scale":"color","field":"value"},"strokeWidth":{"value":1.5},"opacity":{"value":0.6}}}}}}},
"layer":[
{"encoding":{"x":{"field":"conc","type":"quantitative","scale":{"type":"log","domain":[4.8e-6,107],"nice":false},"axis":{"values":[0.00001,0.0001,0.001,0.01,0.1,1,10,100],"labelExpr":"round(log(datum.value)/LN10)%2!==0?'':'1e'+(round(log(datum.value)/LN10)<0?'-':'+')+(abs(round(log(datum.value)/LN10))<10?'0':'')+abs(round(log(datum.value)/LN10))","labelOverlap":false,"labelFlush":false,"labelBound":false,"title":null,"gridWidth":{"condition":{"test":"round(log(datum.value)/LN10)%2!==0","value":0.6},"value":1.2},"tickOpacity":{"condition":{"test":"round(log(datum.value)/LN10)%2!==0","value":0},"value":1}}},
"y":{"field":"mean","type":"quantitative","scale":{"domain":[-4,137.2],"nice":false,"zero":false},"axis":{"values":[0,12.5,25,37.5,50,62.5,75,87.5,100],"labels":false,"ticks":false,"title":null,"gridWidth":{"condition":{"test":"datum.value%25!==0","value":0.6},"value":1.2}}}},
"layer":[
{"data":{"name":"r"},"transform":[{"filter":"datum.CellLine==='MDA-MB-231'"}],"mark":{"type":"circle","size":80,"opacity":0.16},"encoding":{"y":{"field":"value","type":"quantitative"}}},
{"data":{"name":"m"},"transform":[{"filter":"datum.CellLine==='MDA-MB-231'"}],"mark":{"type":"rule","strokeWidth":1.6,"opacity":0.3},"encoding":{"y":{"field":"lo","type":"quantitative"},"y2":{"field":"hi"}}},
{"data":{"name":"m"},"transform":[{"filter":"datum.CellLine==='MDA-MB-231'"}],"mark":{"type":"circle","size":125,"opacity":0.55}},
{"data":{"name":"m"},"transform":[{"filter":"datum.CellLine==='MDA-MB-231'"}],"mark":{"type":"line","strokeWidth":1.3},"encoding":{"y":{"field":"fit","type":"quantitative"},"color":{"value":"#1a1a1a"}}}
]},
{"data":{"values":[{"CellLine":"MDA-MB-231"}]},"mark":{"type":"rect","stroke":"#333333","strokeWidth":1.2},"encoding":{"x":{"datum":4.8e-6,"type":"quantitative","scale":{"type":"log","domain":[4.8e-6,107],"nice":false}},"x2":{"datum":107},"y":{"datum":105,"type":"quantitative","scale":{"domain":[-4,137.2],"nice":false,"zero":false}},"y2":{"datum":137.2},"color":{"value":"#d9d9d9"}}},
{"data":{"values":[{"CellLine":"MDA-MB-231"}]},"mark":{"type":"text","fontSize":24,"baseline":"middle"},"encoding":{"x":{"datum":0.02265,"type":"quantitative","scale":{"type":"log","domain":[4.8e-6,107],"nice":false}},"y":{"datum":121.1,"type":"quantitative","scale":{"domain":[-4,137.2],"nice":false,"zero":false}},"text":{"field":"CellLine"},"color":{"value":"#1a1a1a"}}}
]},
{"width":290,"height":223,
"encoding":{"color":{"field":"CellLine","type":"nominal","scale":{"domain":["JEKO-1","PHPI","Z138","Granta-519","OCI-Ly18","REC-1","JIMT-1","SKOV-3","MINO","MAVER-1","MDA-MB-231","CHO-ROR1-Low","CHO-ROR1-High","CHO-ROR1-Medium"]},"legend":{"orient":"none","legendX":1259,"legendY":198,"encode":{"symbols":{"update":{"stroke":{"scale":"color","field":"value"},"fill":{"scale":"color","field":"value"},"strokeWidth":{"value":1.5},"opacity":{"value":0.6}}}}}}},
"layer":[
{"encoding":{"x":{"field":"conc","type":"quantitative","scale":{"type":"log","domain":[4.8e-6,107],"nice":false},"axis":{"values":[0.00001,0.0001,0.001,0.01,0.1,1,10,100],"labelExpr":"round(log(datum.value)/LN10)%2!==0?'':'1e'+(round(log(datum.value)/LN10)<0?'-':'+')+(abs(round(log(datum.value)/LN10))<10?'0':'')+abs(round(log(datum.value)/LN10))","labelOverlap":false,"labelFlush":false,"labelBound":false,"title":null,"gridWidth":{"condition":{"test":"round(log(datum.value)/LN10)%2!==0","value":0.6},"value":1.2},"tickOpacity":{"condition":{"test":"round(log(datum.value)/LN10)%2!==0","value":0},"value":1}}},
"y":{"field":"mean","type":"quantitative","scale":{"domain":[-4,137.2],"nice":false,"zero":false},"axis":{"values":[0,12.5,25,37.5,50,62.5,75,87.5,100],"labels":false,"ticks":false,"title":null,"gridWidth":{"condition":{"test":"datum.value%25!==0","value":0.6},"value":1.2}}}},
"layer":[
{"data":{"name":"r"},"transform":[{"filter":"datum.CellLine==='CHO-ROR1-Low'"}],"mark":{"type":"circle","size":80,"opacity":0.16},"encoding":{"y":{"field":"value","type":"quantitative"}}},
{"data":{"name":"m"},"transform":[{"filter":"datum.CellLine==='CHO-ROR1-Low'"}],"mark":{"type":"circle","size":125,"opacity":0.55}},
{"data":{"name":"m"},"transform":[{"filter":"datum.CellLine==='CHO-ROR1-Low'"}],"mark":{"type":"line","strokeWidth":1.3},"encoding":{"y":{"field":"fit","type":"quantitative"},"color":{"value":"#1a1a1a"}}}
]},
{"data":{"values":[{"CellLine":"CHO-ROR1-Low"}]},"mark":{"type":"rect","stroke":"#333333","strokeWidth":1.2},"encoding":{"x":{"datum":4.8e-6,"type":"quantitative","scale":{"type":"log","domain":[4.8e-6,107],"nice":false}},"x2":{"datum":107},"y":{"datum":105,"type":"quantitative","scale":{"domain":[-4,137.2],"nice":false,"zero":false}},"y2":{"datum":137.2},"color":{"value":"#d9d9d9"}}},
{"data":{"values":[{"CellLine":"CHO-ROR1-Low"}]},"mark":{"type":"text","fontSize":24,"baseline":"middle"},"encoding":{"x":{"datum":0.02265,"type":"quantitative","scale":{"type":"log","domain":[4.8e-6,107],"nice":false}},"y":{"datum":121.1,"type":"quantitative","scale":{"domain":[-4,137.2],"nice":false,"zero":false}},"text":{"field":"CellLine"},"color":{"value":"#1a1a1a"}}}
]},
{"width":290,"height":223,
"encoding":{"color":{"field":"CellLine","type":"nominal","scale":{"domain":["JEKO-1","PHPI","Z138","Granta-519","OCI-Ly18","REC-1","JIMT-1","SKOV-3","MINO","MAVER-1","MDA-MB-231","CHO-ROR1-Low","CHO-ROR1-High","CHO-ROR1-Medium"]},"legend":{"orient":"none","legendX":1259,"legendY":198,"encode":{"symbols":{"update":{"stroke":{"scale":"color","field":"value"},"fill":{"scale":"color","field":"value"},"strokeWidth":{"value":1.5},"opacity":{"value":0.6}}}}}}},
"layer":[
{"encoding":{"x":{"field":"conc","type":"quantitative","scale":{"type":"log","domain":[4.8e-6,107],"nice":false},"axis":{"values":[0.00001,0.0001,0.001,0.01,0.1,1,10,100],"labelExpr":"round(log(datum.value)/LN10)%2!==0?'':'1e'+(round(log(datum.value)/LN10)<0?'-':'+')+(abs(round(log(datum.value)/LN10))<10?'0':'')+abs(round(log(datum.value)/LN10))","labelOverlap":false,"labelFlush":false,"labelBound":false,"title":null,"gridWidth":{"condition":{"test":"round(log(datum.value)/LN10)%2!==0","value":0.6},"value":1.2},"tickOpacity":{"condition":{"test":"round(log(datum.value)/LN10)%2!==0","value":0},"value":1}}},
"y":{"field":"mean","type":"quantitative","scale":{"domain":[-4,137.2],"nice":false,"zero":false},"axis":{"values":[0,12.5,25,37.5,50,62.5,75,87.5,100],"labelExpr":"datum.value%25!==0?'':datum.label","labelOverlap":false,"title":null,"gridWidth":{"condition":{"test":"datum.value%25!==0","value":0.6},"value":1.2},"tickOpacity":{"condition":{"test":"datum.value%25!==0","value":0},"value":1}}}},
"layer":[
{"data":{"name":"r"},"transform":[{"filter":"datum.CellLine==='CHO-ROR1-High'"}],"mark":{"type":"circle","size":80,"opacity":0.16},"encoding":{"y":{"field":"value","type":"quantitative"}}},
{"data":{"name":"m"},"transform":[{"filter":"datum.CellLine==='CHO-ROR1-High'"}],"mark":{"type":"rule","strokeWidth":1.6,"opacity":0.4},"encoding":{"y":{"field":"lo","type":"quantitative"},"y2":{"field":"hi"}}},
{"data":{"name":"m"},"transform":[{"filter":"datum.CellLine==='CHO-ROR1-High'"}],"mark":{"type":"circle","size":125,"opacity":0.55}},
{"data":{"name":"m"},"transform":[{"filter":"datum.CellLine==='CHO-ROR1-High'"}],"mark":{"type":"line","strokeWidth":1.3},"encoding":{"y":{"field":"fit","type":"quantitative"},"color":{"value":"#1a1a1a"}}}
]},
{"data":{"values":[{"CellLine":"CHO-ROR1-High"}]},"mark":{"type":"rect","stroke":"#333333","strokeWidth":1.2},"encoding":{"x":{"datum":4.8e-6,"type":"quantitative","scale":{"type":"log","domain":[4.8e-6,107],"nice":false}},"x2":{"datum":107},"y":{"datum":105,"type":"quantitative","scale":{"domain":[-4,137.2],"nice":false,"zero":false}},"y2":{"datum":137.2},"color":{"value":"#d9d9d9"}}},
{"data":{"values":[{"CellLine":"CHO-ROR1-High"}]},"mark":{"type":"text","fontSize":24,"baseline":"middle"},"encoding":{"x":{"datum":0.02265,"type":"quantitative","scale":{"type":"log","domain":[4.8e-6,107],"nice":false}},"y":{"datum":121.1,"type":"quantitative","scale":{"domain":[-4,137.2],"nice":false,"zero":false}},"text":{"field":"CellLine"},"color":{"value":"#1a1a1a"}}}
]},
{"width":290,"height":223,
"encoding":{"color":{"field":"CellLine","type":"nominal","scale":{"domain":["JEKO-1","PHPI","Z138","Granta-519","OCI-Ly18","REC-1","JIMT-1","SKOV-3","MINO","MAVER-1","MDA-MB-231","CHO-ROR1-Low","CHO-ROR1-High","CHO-ROR1-Medium"]},"legend":{"orient":"none","legendX":1259,"legendY":198,"encode":{"symbols":{"update":{"stroke":{"scale":"color","field":"value"},"fill":{"scale":"color","field":"value"},"strokeWidth":{"value":1.5},"opacity":{"value":0.6}}}}}}},
"layer":[
{"encoding":{"x":{"field":"conc","type":"quantitative","scale":{"type":"log","domain":[4.8e-6,107],"nice":false},"axis":{"values":[0.00001,0.0001,0.001,0.01,0.1,1,10,100],"labelExpr":"round(log(datum.value)/LN10)%2!==0?'':'1e'+(round(log(datum.value)/LN10)<0?'-':'+')+(abs(round(log(datum.value)/LN10))<10?'0':'')+abs(round(log(datum.value)/LN10))","labelOverlap":false,"labelFlush":false,"labelBound":false,"title":"Conc. (nM)","titleX":298.5,"titleY":58,"titleBaseline":"middle","titleAlign":"center","titleFontSize":32,"gridWidth":{"condition":{"test":"round(log(datum.value)/LN10)%2!==0","value":0.6},"value":1.2},"tickOpacity":{"condition":{"test":"round(log(datum.value)/LN10)%2!==0","value":0},"value":1}}},
"y":{"field":"mean","type":"quantitative","scale":{"domain":[-4,137.2],"nice":false,"zero":false},"axis":{"values":[0,12.5,25,37.5,50,62.5,75,87.5,100],"labels":false,"ticks":false,"title":null,"gridWidth":{"condition":{"test":"datum.value%25!==0","value":0.6},"value":1.2}}}},
"layer":[
{"data":{"name":"r"},"transform":[{"filter":"datum.CellLine==='CHO-ROR1-Medium'"}],"mark":{"type":"circle","size":80,"opacity":0.16},"encoding":{"y":{"field":"value","type":"quantitative"}}},
{"data":{"name":"m"},"transform":[{"filter":"datum.CellLine==='CHO-ROR1-Medium'"}],"mark":{"type":"rule","strokeWidth":1.6,"opacity":0.4},"encoding":{"y":{"field":"lo","type":"quantitative"},"y2":{"field":"hi"}}},
{"data":{"name":"m"},"transform":[{"filter":"datum.CellLine==='CHO-ROR1-Medium'"}],"mark":{"type":"circle","size":125,"opacity":0.55}},
{"data":{"name":"m"},"transform":[{"filter":"datum.CellLine==='CHO-ROR1-Medium'"}],"mark":{"type":"line","strokeWidth":1.3},"encoding":{"y":{"field":"fit","type":"quantitative"},"color":{"value":"#1a1a1a"}}}
]},
{"data":{"values":[{"CellLine":"CHO-ROR1-Medium"}]},"mark":{"type":"rect","stroke":"#333333","strokeWidth":1.2},"encoding":{"x":{"datum":4.8e-6,"type":"quantitative","scale":{"type":"log","domain":[4.8e-6,107],"nice":false}},"x2":{"datum":107},"y":{"datum":105,"type":"quantitative","scale":{"domain":[-4,137.2],"nice":false,"zero":false}},"y2":{"datum":137.2},"color":{"value":"#d9d9d9"}}},
{"data":{"values":[{"CellLine":"CHO-ROR1-Medium"}]},"mark":{"type":"text","fontSize":24,"baseline":"middle"},"encoding":{"x":{"datum":0.02265,"type":"quantitative","scale":{"type":"log","domain":[4.8e-6,107],"nice":false}},"y":{"datum":121.1,"type":"quantitative","scale":{"domain":[-4,137.2],"nice":false,"zero":false}},"text":{"field":"CellLine"},"color":{"value":"#1a1a1a"}}}
]},
{"width":290,"height":223,"view":{"stroke":null},
"data":{"name":"notes"},
"encoding":{"y":{"field":"line","type":"nominal","scale":{"type":"point","domain":["Legend","Black-line: model-fit","Solid-dots: data mean","Faint dots: individual experiments"],"range":[54,170.5],"padding":0},"axis":null}},
"layer":[
{"transform":[{"filter":"datum.line==='Legend'"}],"mark":{"type":"text","align":"center","baseline":"middle","dx":188,"font":"Open Sans","fontSize":31,"color":"#000000"},"encoding":{"text":{"field":"line"}}},
{"transform":[{"filter":"datum.line!=='Legend'"}],"mark":{"type":"text","align":"left","baseline":"middle","dx":-66,"font":"Open Sans","fontSize":31,"color":"#000000"},"encoding":{"text":{"field":"line"}}}
]}
],
"config":{
"font":"Liberation Sans",
"view":{"stroke":"#333333","strokeWidth":1.2},
"range":{"category":["#440154","#481C6E","#453581","#3D4D8A","#34618D","#2B748E","#24878E","#1F998A","#25AC82","#40BC72","#67CC5C","#97D83F","#CBE11E","#FDE725"]},
"axis":{"domain":false,"gridColor":"#ebebeb","labelColor":"#4d4d4d","labelFont":"Liberation Sans","labelFontSize":24,"tickColor":"#333333","tickSize":8,"tickWidth":1.2,"labelPadding":5,"titleFont":"Liberation Sans","titleFontSize":30,"titleFontWeight":"normal","titleColor":"#000000"},
"axisY":{"labelPadding":10},
"legend":{"titleFont":"Liberation Sans","titleFontSize":30,"titleFontWeight":"normal","titleColor":"#000000","titlePadding":24,"labelFont":"Liberation Sans","labelFontSize":24,"labelColor":"#1a1a1a","labelOffset":33,"labelLimit":186,"rowPadding":12,"symbolType":"M-0.36,0A0.36,0.36,0,1,0,0.36,0A0.36,0.36,0,1,0,-0.36,0ZM0,-1L0,1","symbolSize":440}
}
}
